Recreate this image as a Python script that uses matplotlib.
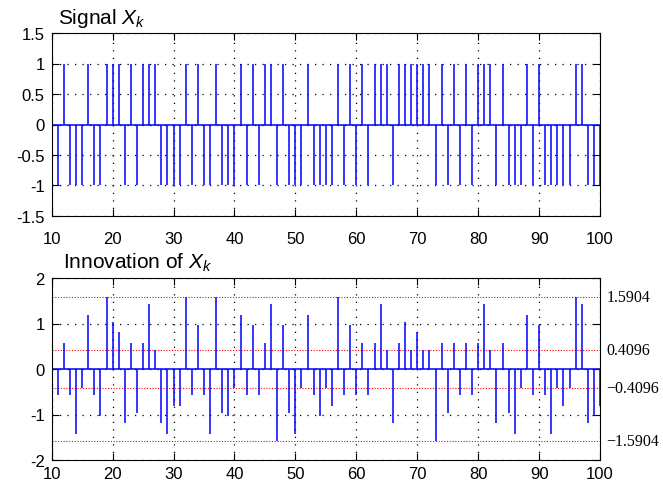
import matplotlib
matplotlib.use("Agg")
import matplotlib.pyplot as plt
import matplotlib.transforms as mtransforms
import numpy as np

# ---- data ----
k = list(range(10, 101))
innovation = [
    0.77, -0.57, 0.57, -0.57, -1.43, -0.4096, 1.19, -0.57, -1.03, 1.5904,   # 10-19
    1.03, 0.81, -1.19, 0.57, -0.97, 0.57, 1.43, 0.4096, -1.19, -1.43,       # 20-29
    -0.81, -0.81, 1.5904, -0.57, 0.97, -0.57, -1.43, 1.5904, -0.97, -1.03,  # 30-39
    -0.4096, 1.19, -0.57, 0.97, -0.57, 0.57, 1.43, -1.5904, 0.97, -0.97,    # 40-49
    -1.43, -0.4096, 1.19, -0.57, -1.03, -0.4096, -0.81, 1.5904, -0.57, 0.97,  # 50-59
    -0.57, 0.57, -0.57, 0.57, 1.43, 0.4096, -1.19, 0.57, 1.03, 0.4096,      # 60-69
    0.81, 0.4096, 0.4096, -1.5904, 0.57, -0.97, 0.57, -0.57, 0.57, -0.57,   # 70-79
    0.57, 1.43, 0.4096, -1.19, 0.57, -0.97, -1.43, -0.4096, 1.19, -0.57,    # 80-89
    0.97, -0.57, -1.43, -0.4096, -0.81, -0.4096, 1.5904, 1.43, -1.19, -1.03,  # 90-99
    -0.81,                                                                   # 100
]
signal = [1 if v > 0 else -1 for v in innovation]

thresholds = [1.5904, 0.4096, -0.4096, -1.5904]
threshold_labels = ["1.5904", "0.4096", "\u22120.4096", "\u22121.5904"]

xticks = [10, 20, 30, 40, 50, 60, 70, 80, 90, 100]
top_yticks = [-1.5, -1, -0.5, 0, 0.5, 1, 1.5]
top_yticklabels = ["-1.5", "-1", "-0.5", "0", "0.5", "1", "1.5"]
bot_yticks = [-2, -1, 0, 1, 2]
bot_yticklabels = ["-2", "-1", "0", "1", "2"]

plt.rcParams['font.family'] = ['Liberation Sans', 'DejaVu Sans']
plt.rcParams['axes.unicode_minus'] = False
plt.rcParams['mathtext.fontset'] = 'custom'
plt.rcParams['mathtext.it'] = 'Liberation Sans:italic'
plt.rcParams['mathtext.rm'] = 'Liberation Sans'

W, H = 663, 485
fig = plt.figure(figsize=(W / 100, H / 100), dpi=100)

def px_axes(left, top, right, bottom):
    return fig.add_axes([left / W, 1 - bottom / H, (right - left) / W, (bottom - top) / H])

ax1 = px_axes(51.7, 34, 600, 217)
ax2 = px_axes(51.7, 279, 600, 461)

blue = (0.0, 0.0, 1.0)

def style(ax, yticks, ylabels, ylim, xpad):
    ax.set_xlim(10, 100)
    ax.set_ylim(*ylim)
    ax.set_xticks(xticks)
    ax.set_xticklabels([str(t) for t in xticks])
    ax.set_yticks(yticks)
    ax.set_yticklabels(ylabels)
    ax.tick_params(direction='in', top=True, right=True, length=5, width=0.8,
                   labelsize=12, pad=5)
    ax.tick_params(axis='x', pad=xpad)
    ax.grid(True, color='black', linestyle=(0, (1, 5)), linewidth=0.9)
    ax.set_axisbelow(True)
    for s in ax.spines.values():
        s.set_linewidth(0.8)
        s.set_color('black')

# top: signal
ml, sl, bl = ax1.stem(k, signal, linefmt='-', markerfmt=' ', basefmt='-')
plt.setp(sl, color=blue, linewidth=1.1)
plt.setp(bl, color=blue, linewidth=1.1)
style(ax1, top_yticks, top_yticklabels, (-1.5, 1.5), 11)

# bottom: innovation
for t in thresholds:
    ax2.axhline(t, color='red', linestyle=(0, (1, 1.5)), linewidth=0.8, zorder=1)
ml, sl, bl = ax2.stem(k, innovation, linefmt='-', markerfmt=' ', basefmt='-')
plt.setp(sl, color=blue, linewidth=1.1)
plt.setp(bl, color=blue, linewidth=1.1)
style(ax2, bot_yticks, bot_yticklabels, (-2, 2), 4)

trans = mtransforms.blended_transform_factory(ax2.transAxes, ax2.transData)
for t, lab in zip(thresholds, threshold_labels):
    ax2.text(1.012, t, lab, transform=trans, ha='left', va='center',
             fontsize=11.5, family=['Liberation Serif', 'DejaVu Serif'])

fig.text(58 / W, 1 - 18 / H, r"Signal $X_k$", fontsize=15, ha='left', va='center')
fig.text(63 / W, 1 - 263 / H, r"Innovation of $X_k$", fontsize=15, ha='left', va='center')

fig.savefig("out.png", dpi=100)
